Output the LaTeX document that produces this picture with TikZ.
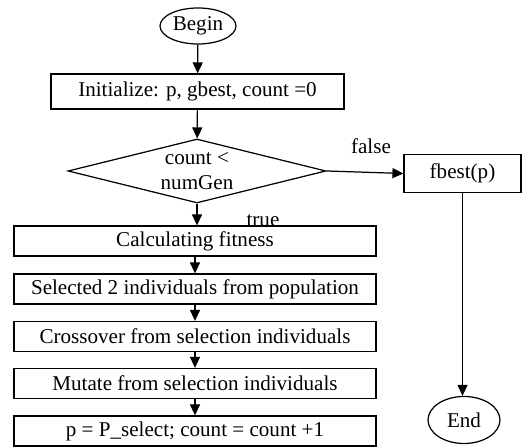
\documentclass[tikz,border=0pt]{standalone}
\usepackage{fontspec}
\setmainfont{Liberation Serif}
\usetikzlibrary{shapes.geometric,arrows.meta}

\begin{document}
\begin{tikzpicture}[x=0.02cm,y=-0.02cm,
    every node/.style={font=\fontsize{12}{14}\selectfont},
    flow/.style={draw,line width=0.7pt,fill=white,inner sep=0pt},
    stepbox/.style={flow,rectangle,minimum width=7.24cm,minimum height=0.6cm},
    terminal/.style={flow,ellipse},
    link/.style={line width=0.7pt,-{Triangle[length=2.2mm,width=2mm]}}]
        \useasboundingbox (0,0) rectangle (529,448);
        % start and setup
        \node[terminal,minimum width=1.52cm,minimum height=0.72cm] (begin) at (198,26) {Begin};
        \node[flow,rectangle,minimum width=5.86cm,minimum height=0.7cm] (init) at (197.5,91.5) {Initialize: p, gbest, count =0};
        \node[flow,diamond,aspect=4,minimum width=5.16cm,minimum height=1.28cm,align=center] (cond) at (197,171) {count <\\numGen};
        % labels of the test
        \node (lblfalse) at (371,146) {false};
        \node (lbltrue) at (263,221) {true};
        % loop body
        \node[stepbox] (calc) at (195,241) {Calculating fitness};
        \node[stepbox] (sel) at (195,289) {Selected 2 individuals from population};
        \node[stepbox] (cross) at (195,336.5) {Crossover from selection individuals};
        \node[stepbox] (mut) at (195,383.5) {Mutate from selection individuals};
        \node[stepbox] (upd) at (195,431) {p = P\_select; count = count +1};
        % result branch
        \node[flow,rectangle,minimum width=2.34cm,minimum height=0.76cm] (fbest) at (462.5,173.5) {fbest(p)};
        \node[terminal,minimum width=1.44cm,minimum height=0.94cm] (end) at (464,420) {End};
        \draw[link] (begin) -- (init);
        \draw[link] (init) -- (cond);
        \draw[link] (cond.east) -- (fbest.west);
        \draw[link] (cond.south) -- (cond.south |- calc.north);
        \draw[link] (calc) -- (sel);
        \draw[link] (sel) -- (cross);
        \draw[link] (cross) -- (mut);
        \draw[link] (mut) -- (upd);
        \draw[link] (fbest.south) -- (fbest.south |- end.north);
    \end{tikzpicture}
\end{document}
